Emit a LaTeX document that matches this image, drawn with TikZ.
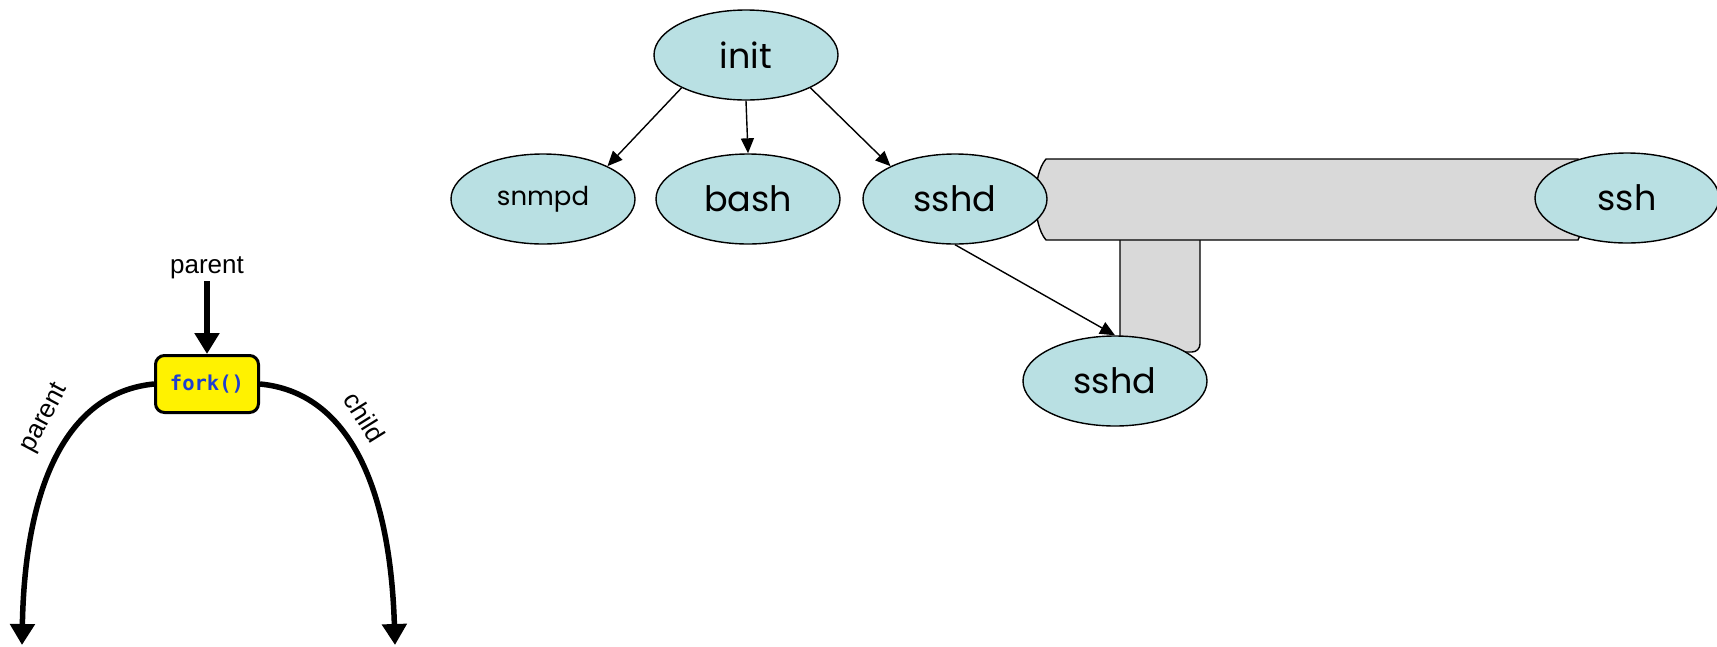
\documentclass[tikz,border=0pt]{standalone}
\usepackage{fontspec}
\setmainfont{Liberation Sans}
\newfontfamily\comicf{Poppins}
\newfontfamily\monof{DejaVu Sans Mono}
\usetikzlibrary{shapes.geometric,arrows.meta}
\definecolor{procfill}{HTML}{B9E0E3}
\definecolor{tubefill}{HTML}{D9D9D9}
\definecolor{forkblue}{HTML}{1F3FD0}
\begin{document}
\begin{tikzpicture}[x=1pt,y=-1pt,
  proc/.style={ellipse, draw=black, line width=1.4pt, fill=procfill,
    minimum width=184pt, minimum height=90pt, inner sep=0pt,
    font=\comicf\fontsize{35}{40}\selectfont},
  smallproc/.style={proc, font=\comicf\fontsize{26}{30}\selectfont},
  treearrow/.style={line width=1.4pt, -{Triangle[length=15pt,width=13pt]}},
  forkline/.style={line width=5.5pt, -{Triangle[length=21pt,width=24pt]}},
  forkbox/.style={draw=black, line width=3pt, fill=yellow, rounded corners=9pt,
    minimum width=103pt, minimum height=57pt, inner sep=0pt,
    font=\monof\bfseries\fontsize{20.5}{24}\selectfont, text=forkblue},
  lbl/.style={font=\fontsize{26}{30}\selectfont, inner sep=2pt},
  tube/.style={draw=black, line width=1.4pt, fill=tubefill}]
\useasboundingbox (0,0) rectangle (1717,646);

% tubes
\draw[tube] (1120,230) -- (1120,340) [rounded corners=8pt] -- (1120,352) -- (1200,352) -- (1200,230);
\draw[tube] (1046,159) -- (1578,159) .. controls (1586,175) and (1586,224) .. (1578,240)
  -- (1046,240) .. controls (1032,224) and (1032,175) .. (1046,159) -- cycle;

% process tree
\node[proc] (init) at (746,55) {init};
\node[smallproc] (snmpd) at (543,199) {snmpd};
\node[proc] (bash) at (748,199) {bash};
\node[proc] (sshdA) at (955,199) {sshd};
\node[proc] (ssh) at (1627,198) {ssh};
\node[proc] (sshdB) at (1115,381) {sshd};

\draw[treearrow] (init.207) -- (snmpd.27);
\draw[treearrow] (init.south) -- (bash.north);
\draw[treearrow] (init.-27) -- (sshdA.153);
\draw[treearrow] (sshdA.south) -- (sshdB.north);

% fork diagram
\node[forkbox] (fork) at (207,384) {fork()};
\node[lbl] (ptop) at (207,268) {parent};
\coordinate (lend) at (22,645);
\coordinate (rend) at (395,645);
\draw[forkline] (ptop.south) -- (fork.north);
\draw[forkline] (fork.west) .. controls (70,392) and (25,480) .. (lend);
\draw[forkline] (fork.east) .. controls (345,392) and (390,480) .. (rend);
\node[lbl, rotate=62] (lp) at (45,418) {parent};
\node[lbl, rotate=-58] (lc) at (365,417) {child};
\end{tikzpicture}
\end{document}
